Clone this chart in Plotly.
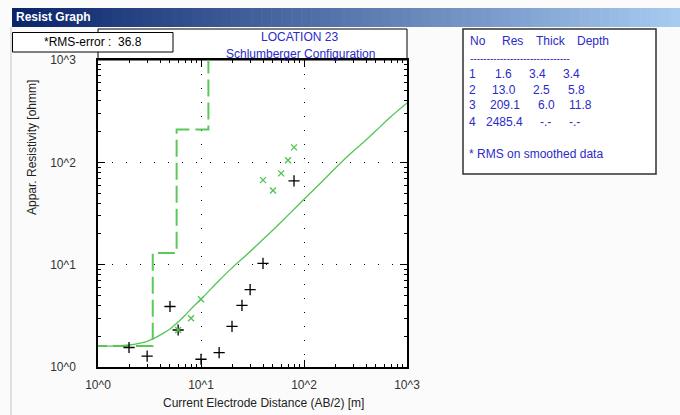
import plotly.graph_objects as go

# ---------------- data ----------------
ab2_obs = [2, 3, 5, 6, 10, 15, 20, 25, 30, 40, 80]
rho_obs = [1.55, 1.28, 3.9, 2.3, 1.19, 1.38, 2.5, 4.0, 5.7, 10.3, 66]

ab2_smooth = [6, 8, 10, 40, 50, 60, 70, 80]
rho_smooth = [2.3, 3.0, 4.6, 67, 53, 78, 105, 140]

ab2_calc = [1, 1.5, 2, 2.5, 3, 3.4, 4, 5, 6, 7, 8, 10, 15, 20, 28, 37, 50, 70,
            100, 150, 200, 278, 400, 508, 700, 1000]
rho_calc = [1.6, 1.61, 1.64, 1.7, 1.78, 1.88, 2.05, 2.35, 2.75, 3.2, 3.7, 4.6,
            7.0, 9.3, 12.6, 16.4, 21.8, 30.5, 43.5, 65, 87, 120, 165, 207, 280, 380]

layer_no = ["1", "2", "3", "4"]
layer_res = [1.6, 13.0, 209.1, 2485.4]
layer_thick = [3.4, 2.5, 6.0]
layer_depth = [3.4, 5.8, 11.8]

rms_error = 36.8
location = "LOCATION 23"
config = "Schlumberger Configuration"
tick_vals = [1, 10, 100, 1000]
tick_text = ["10^0", "10^1", "10^2", "10^3"]

# ---------------- geometry helpers ----------------
W, H = 680, 415
L, R, T, B = 98, 407, 60, 367


def P(px):
    return (px - L) / (R - L)


def Q(py):
    return (B - py) / (B - T)


# model step line built from layer arrays
step_x, step_y = [0.5], [layer_res[0]]
for i, d in enumerate(layer_depth):
    step_x += [d, d]
    step_y += [layer_res[i], layer_res[i + 1]]
step_x.append(5000)
step_y.append(layer_res[-1])

GREEN = "#55c455"
BLUE = "#2b2bc8"
FONT = "Liberation Sans, Arial, sans-serif"

fig = go.Figure()
fig.add_trace(go.Scatter(x=step_x, y=step_y, mode="lines",
                         line=dict(color="#5cc85c", width=2, dash="17px,6px"),
                         hoverinfo="skip"))
fig.add_trace(go.Scatter(x=ab2_calc, y=rho_calc, mode="lines",
                         line=dict(color=GREEN, width=1.3, shape="spline", smoothing=0.6),
                         hoverinfo="skip"))
fig.add_trace(go.Scatter(x=ab2_obs, y=rho_obs, mode="markers",
                         marker=dict(symbol="cross-thin", size=8,
                                     line=dict(color="black", width=1.3))))
fig.add_trace(go.Scatter(x=ab2_smooth, y=rho_smooth, mode="markers",
                         marker=dict(symbol="x-thin", size=6,
                                     line=dict(color=GREEN, width=1.4))))

minor_vals = [m * 10 ** e for e in range(0, 3) for m in range(2, 10)]

axis_common = dict(
    type="log", showline=True, linecolor="black", linewidth=1.5, mirror="ticks",
    ticks="inside", ticklen=7, tickcolor="black", tickwidth=1,
    tickmode="array", tickvals=tick_vals, ticktext=tick_text,
    showgrid=True, gridcolor="black", gridwidth=1, griddash="1px,13px",
    zeroline=False, tickfont=dict(family=FONT, size=12, color="#333333"),
    minor=dict(ticks="inside", ticklen=3, tickcolor="black", tickwidth=1,
               tickvals=minor_vals, showgrid=False),
)

fig.update_layout(
    width=W, height=H, autosize=False,
    margin=dict(l=L, r=W - R, t=T, b=H - B, pad=0),
    paper_bgcolor="#fbfbfb", plot_bgcolor="white",
    showlegend=False,
    xaxis=dict(range=[0, 3], ticklabelstandoff=6, **axis_common),
    yaxis=dict(range=[0, 3], ticklabelstandoff=18, **axis_common),
)

shapes = []
# window title bar gradient
c0, c1 = (10, 36, 106), (166, 202, 240)
n = 67
x0, x1 = 12, 680
for i in range(n):
    t = i / (n - 1)
    col = "rgb(%d,%d,%d)" % tuple(round(a + (b - a) * t) for a, b in zip(c0, c1))
    xa = x0 + (x1 - x0) * i / n
    xb = x0 + (x1 - x0) * (i + 1) / n + 0.6
    shapes.append(dict(type="rect", xref="paper", yref="paper",
                       x0=P(xa), x1=P(xb), y0=Q(27), y1=Q(8),
                       line=dict(width=0), fillcolor=col, layer="below"))
# window left border
shapes.append(dict(type="line", xref="paper", yref="paper",
                   x0=P(11), x1=P(11), y0=Q(27), y1=Q(415),
                   line=dict(color="#c4c4c4", width=1)))
# RMS box
shapes.append(dict(type="rect", xref="paper", yref="paper",
                   x0=P(12.5), x1=P(173), y0=Q(52), y1=Q(32.5),
                   line=dict(color="black", width=1), fillcolor="white"))
# title box
shapes.append(dict(type="rect", xref="paper", yref="paper",
                   x0=P(98), x1=P(407), y0=Q(60), y1=Q(29),
                   line=dict(color="black", width=1), fillcolor="white",
                   layer="below"))
# layer table box
shapes.append(dict(type="rect", xref="paper", yref="paper",
                   x0=P(463), x1=P(656), y0=Q(174), y1=Q(29),
                   line=dict(color="#303030", width=1.5), fillcolor="white",
                   layer="below"))
fig.update_layout(shapes=shapes)

ann = []


def text(px, py, s, color="black", size=12, anchor="center", bold=False):
    ann.append(dict(xref="paper", yref="paper", x=P(px), y=Q(py), text=s,
                    showarrow=False, xanchor=anchor, yanchor="middle",
                    font=dict(family=FONT, size=size, color=color,
                              weight="bold" if bold else "normal")))


text(14, 17.5, "Resist Graph", color="white", size=12, anchor="left", bold=True)
text(93, 42.5, "*RMS-error :  %.1f" % rms_error)
text(299, 37.5, location, color=BLUE)
text(300, 53.5, config, color=BLUE)

# axis titles
text(263, 402.5, "Current Electrode Distance (AB/2) [m]", color="#222222")
ann.append(dict(xref="paper", yref="paper", x=P(32), y=Q(148),
                text="Appar. Resistivity [ohmm]", showarrow=False, textangle=-90,
                xanchor="center", yanchor="middle",
                font=dict(family=FONT, size=12, color="#222222")))

# layer table
text(468, 41.5, "No", color=BLUE, anchor="left")
text(512, 41.5, "Res", color=BLUE)
text(550.5, 41.5, "Thick", color=BLUE)
text(593, 41.5, "Depth", color=BLUE)
text(467.5, 58, "-" * 30, color=BLUE, anchor="left", size=10)
row_y = [74, 89.5, 105.5, 122]
res_cx = [503, 504, 504.5, 504.5]
thick_cx = [537, 541.5, 546, 545.5]
depth_cx = [571, 576, 580.5, 574.5]
for i in range(len(layer_no)):
    text(473, row_y[i], layer_no[i], color=BLUE)
    text(res_cx[i], row_y[i], "%.1f" % layer_res[i], color=BLUE)
    if i < len(layer_thick):
        text(thick_cx[i], row_y[i], "%.1f" % layer_thick[i], color=BLUE)
        text(depth_cx[i], row_y[i], "%.1f" % layer_depth[i], color=BLUE)
    else:
        text(thick_cx[i], row_y[i], "-.-", color=BLUE)
        text(depth_cx[i], row_y[i], "-.-", color=BLUE)
text(467, 153.5, "* RMS on smoothed data", color=BLUE, anchor="left")

fig.update_layout(annotations=ann)
fig.write_html("out.html",
               config={"displayModeBar": False},
               post_script="document.body.style.margin='0';"
                           "document.body.style.overflow='hidden';")
